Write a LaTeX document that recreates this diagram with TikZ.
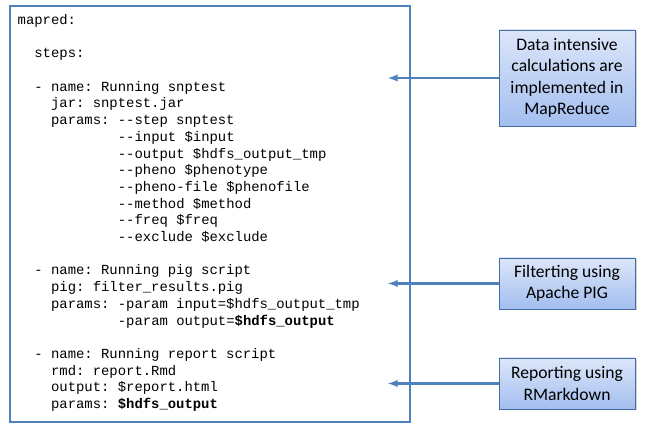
\documentclass[tikz,border=0pt]{standalone}
\usepackage{fontspec}
\setmainfont{Carlito}
\setmonofont{Liberation Mono}
\usetikzlibrary{arrows, shadows}
\definecolor{officeblue}{HTML}{4F81BD}
\definecolor{boxtop}{HTML}{DCE6F9}
\definecolor{boxbottom}{HTML}{A3BEEF}

\begin{document}
\begin{tikzpicture}
    [
        x=1pt, y=-1pt,
        codebox/.style = {draw=officeblue, shape=rectangle, line width=1.8pt, minimum width=400pt, minimum height=416pt},
        code/.style = {anchor=base west, inner sep=0pt, font=\ttfamily\fontsize{13.9}{16.7}\selectfont},
        note/.style = {draw=officeblue!85!black, shape=rectangle, line width=0.9pt, minimum width=136pt, top color=boxtop, bottom color=boxbottom, align=center, font=\fontsize{17.6}{21.5}\selectfont, drop shadow={shadow xshift=1.5pt, shadow yshift=-1.5pt, opacity=0.35}},
        pointer/.style = {-latex, draw=officeblue, line width=2.3pt},
    ]
    \useasboundingbox (0,0) rectangle (646,430);

    \node[codebox] (cfg) at (209.75,214) {};

    % code lines, one node per line
    \node[code] (l0)  at (17.5,24.5)  {mapred:};
    \node[code] (l2)  at (34.2,57.9)  {steps:};
    \node[code] (l4)  at (34.2,91.3)  {- name: Running snptest};
    \node[code] (l5)  at (50.9,108.0) {jar: snptest.jar};
    \node[code] (l6)  at (50.9,124.7) {params: --step snptest};
    \node[code] (l7)  at (117.7,141.4) {--input \$input};
    \node[code] (l8)  at (117.7,158.1) {--output \$hdfs\_output\_tmp};
    \node[code] (l9)  at (117.7,174.8) {--pheno \$phenotype};
    \node[code] (l10) at (117.7,191.5) {--pheno-file \$phenofile};
    \node[code] (l11) at (117.7,208.2) {--method \$method};
    \node[code] (l12) at (117.7,224.9) {--freq \$freq};
    \node[code] (l13) at (117.7,241.6) {--exclude \$exclude};
    \node[code] (l15) at (34.2,275.0) {- name: Running pig script};
    \node[code] (l16) at (50.9,291.7) {pig: filter\_results.pig};
    \node[code] (l17) at (50.9,308.4) {params: -param input=\$hdfs\_output\_tmp};
    \node[code] (l18) at (117.7,325.1) {-param output=\textbf{\$hdfs\_output}};
    \node[code] (l20) at (34.2,358.5) {- name: Running report script};
    \node[code] (l21) at (50.9,375.2) {rmd: report.Rmd};
    \node[code] (l22) at (50.9,391.9) {output: \$report.html};
    \node[code] (l23) at (50.9,408.6) {params: \textbf{\$hdfs\_output}};

    % notes on the right
    \node[note, minimum height=96pt] (mapreduce) at (567,78)    {Data intensive\\calculations are\\implemented in\\MapReduce};
    \node[note, minimum height=51pt] (pig)       at (567,283.5) {Filterting using\\Apache PIG};
    \node[note, minimum height=51pt] (report)    at (567,383.5) {Reporting using\\RMarkdown};

    \coordinate (mapreduceend) at (388,78);
    \coordinate (pigend)       at (388,283.5);
    \coordinate (reportend)    at (388,383.5);

    \draw [pointer] (mapreduce.west) -- (mapreduceend);
    \draw [pointer] (pig.west) -- (pigend);
    \draw [pointer] (report.west) -- (reportend);
\end{tikzpicture}
\end{document}
